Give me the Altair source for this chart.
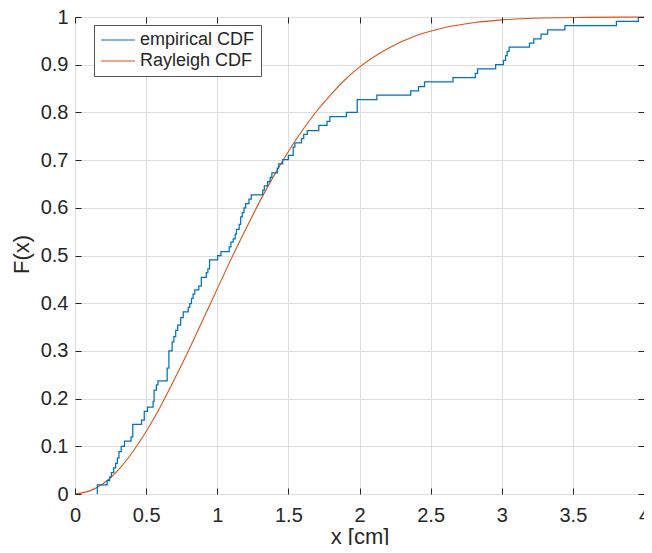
import altair as alt
import pandas as pd

# ---- data ----
x_ticks = [0, 0.5, 1, 1.5, 2, 2.5, 3, 3.5, 4]
y_ticks = [0, 0.1, 0.2, 0.3, 0.4, 0.5, 0.6, 0.7, 0.8, 0.9, 1]

series_names = ["empirical CDF", "Rayleigh CDF"]
series_colors = ["#0072BD", "#D95319"]

# empirical CDF: jump locations and level after each jump
emp_x = [0.157, 0.157, 0.226, 0.244, 0.256, 0.272, 0.286, 0.298, 0.309, 0.325,
         0.348, 0.394, 0.406, 0.468, 0.487, 0.510, 0.549, 0.556, 0.572, 0.583,
         0.648, 0.660, 0.683, 0.695, 0.708, 0.722, 0.743, 0.761, 0.796, 0.807,
         0.819, 0.830, 0.842, 0.870, 0.888, 0.923, 0.934, 0.946, 1.003, 1.026,
         1.084, 1.096, 1.112, 1.126, 1.135, 1.154, 1.165, 1.176, 1.188, 1.200,
         1.223, 1.239, 1.320, 1.331, 1.354, 1.372, 1.384, 1.422, 1.432, 1.460,
         1.500, 1.534, 1.546, 1.592, 1.608, 1.633, 1.714, 1.772, 1.792, 1.908,
         1.984, 2.122, 2.360, 2.415, 2.457, 2.657, 2.814, 2.830, 2.957, 3.012,
         3.027, 3.038, 3.052, 3.195, 3.225, 3.276, 3.322, 3.444, 3.806, 3.960]
emp_F = [0.000, 0.019, 0.028, 0.036, 0.045, 0.055, 0.064, 0.075, 0.089, 0.100,
         0.111, 0.120, 0.146, 0.155, 0.173, 0.182, 0.194, 0.218, 0.229, 0.237,
         0.264, 0.300, 0.319, 0.330, 0.343, 0.354, 0.370, 0.382, 0.391, 0.399,
         0.410, 0.419, 0.428, 0.436, 0.454, 0.464, 0.472, 0.491, 0.500, 0.508,
         0.518, 0.528, 0.535, 0.545, 0.555, 0.565, 0.581, 0.590, 0.600, 0.609,
         0.618, 0.627, 0.637, 0.646, 0.655, 0.664, 0.673, 0.683, 0.692, 0.701,
         0.710, 0.727, 0.736, 0.745, 0.754, 0.762, 0.773, 0.781, 0.791, 0.800,
         0.827, 0.836, 0.845, 0.854, 0.864, 0.873, 0.882, 0.891, 0.900, 0.909,
         0.919, 0.928, 0.937, 0.945, 0.954, 0.964, 0.973, 0.982, 0.991, 1.000]

# Rayleigh CDF curve
ray_x = [0, 0.1, 0.2, 0.3, 0.4, 0.5, 0.6, 0.7, 0.8, 0.9, 1.0, 1.1, 1.2, 1.3,
         1.4, 1.5, 1.6, 1.7, 1.8, 1.9, 2.0, 2.2, 2.4, 2.6, 2.8, 3.0, 3.3, 3.6, 4.0]
ray_F = [0, 0.006, 0.022, 0.049, 0.086, 0.131, 0.183, 0.241, 0.302, 0.366,
         0.430, 0.494, 0.555, 0.614, 0.668, 0.718, 0.763, 0.803, 0.838, 0.869,
         0.895, 0.934, 0.961, 0.978, 0.988, 0.994, 0.998, 0.9993, 1.0]

emp = pd.DataFrame({"x": emp_x, "F": emp_F, "series": series_names[0],
                    "i": list(range(len(emp_x)))})
ray = pd.DataFrame({"x": ray_x, "F": ray_F, "series": series_names[1],
                    "i": list(range(len(ray_x)))})

TXT = "#262626"
FONT = "Liberation Sans"

xs = alt.Scale(domain=[0, 4], nice=False, zero=False)
ys = alt.Scale(domain=[0, 1], nice=False, zero=False)

color = alt.Color(
    "series:N",
    scale=alt.Scale(domain=series_names, range=series_colors),
    legend=alt.Legend(
        title=None, orient="none", legendX=19, legendY=8,
        symbolType="stroke", symbolSize=1156, symbolStrokeWidth=1.2,
        clipHeight=18, labelFontSize=18, labelFont=FONT, labelColor=TXT,
        padding=6, rowPadding=3, labelOffset=4, labelLimit=0,
        fillColor="white", strokeColor="#555555",
    ),
)

main_x = alt.Axis(orient="bottom", values=x_ticks, format="~g", title="x [cm]",
                  grid=True, gridColor="#dedede", ticks=False, tickSize=0,
                  domain=False, labelPadding=11, labelFlush=False,
                  labelOverlap=False, labelFontSize=20, labelFont=FONT,
                  labelColor=TXT, titleFontSize=22, titleFont=FONT,
                  titleColor=TXT, titleFontWeight="normal", titleY=49,
                  titleBaseline="alphabetic")
main_y = alt.Axis(orient="left", values=y_ticks, format="~g", title="F(x)",
                  grid=True, gridColor="#dedede", ticks=False, tickSize=0,
                  domain=False, labelPadding=7, labelOverlap=False,
                  labelFontSize=20, labelFont=FONT, labelColor=TXT,
                  titleFontSize=22, titleFont=FONT, titleColor=TXT,
                  titleFontWeight="normal", titleAngle=270,
                  titleBaseline="bottom", titleAlign="center",
                  titleX=-42, titleY=237)


def tick_axis(orient, vals):
    return alt.Axis(orient=orient, values=vals, labels=False, grid=False,
                    domain=False, ticks=True, tickSize=6, offset=-6,
                    tickColor=TXT, tickWidth=1, title=None, zindex=1)


emp_layer = alt.Chart(emp).mark_line(
    strokeWidth=1.25, interpolate="step-after"
).encode(
    x=alt.X("x:Q", scale=xs, axis=main_x),
    y=alt.Y("F:Q", scale=ys, axis=main_y),
    color=color,
    order=alt.Order("i:Q"),
)

ray_layer = alt.Chart(ray).mark_line(
    strokeWidth=1.1, interpolate="monotone"
).encode(
    x=alt.X("x:Q", scale=xs, axis=tick_axis("bottom", x_ticks)),
    y=alt.Y("F:Q", scale=ys, axis=tick_axis("left", y_ticks)),
    color=color,
    order=alt.Order("i:Q"),
)

box_ticks = alt.Chart(ray).mark_line(opacity=0).encode(
    x=alt.X("x:Q", scale=xs, axis=tick_axis("top", x_ticks)),
    y=alt.Y("F:Q", scale=ys, axis=tick_axis("right", y_ticks)),
)

chart = alt.layer(ray_layer, emp_layer, box_ticks).resolve_axis(
    x="independent", y="independent"
).properties(
    width=569, height=477,
    autosize=alt.AutoSizeParams(type="none"),
    padding={"left": 67, "top": 9, "right": 0, "bottom": 51},
    background="white",
).configure_view(
    stroke=TXT, strokeWidth=1
).configure(font=FONT)

chart.save("out.html", embed_options={"renderer": "svg", "actions": False})
